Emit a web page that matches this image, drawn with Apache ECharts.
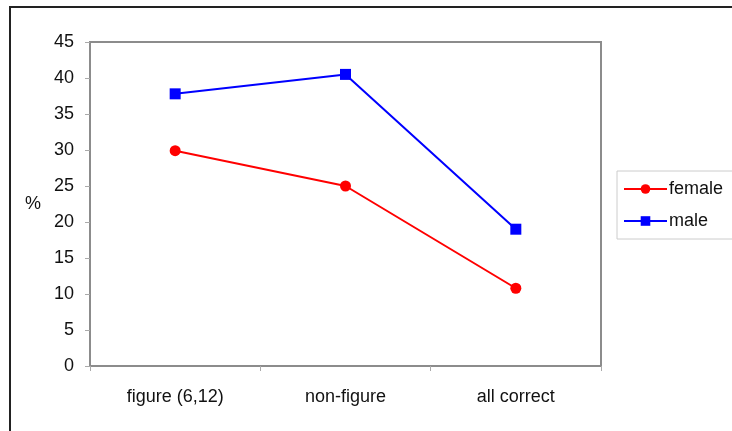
<!DOCTYPE html>
<html><head><meta charset="utf-8">
<script src="https://cdn.jsdelivr.net/npm/echarts@6/dist/echarts.min.js"></script>
<style>
html,body{margin:0;padding:0;background:#fff;}
#frame{position:absolute;left:9px;top:6px;width:740px;height:440px;border-left:2px solid #222;border-top:2px solid #222;}
#c{position:absolute;left:0;top:0;width:732px;height:431px;}
</style></head>
<body><div id="frame"></div><div id="c"></div>
<script>
const categories = ['figure (6,12)', 'non-figure', 'all correct'];
const female = [29.9, 25.0, 10.8];
const male = [37.8, 40.5, 19.0];
const yTicks = {min: 0, max: 45, interval: 5};

const chart = echarts.init(document.getElementById('c'));
const font = 'Liberation Sans, Arial, sans-serif';
chart.setOption({
  animation: false,
  textStyle: {fontFamily: font},
  grid: {left: 90, top: 42, right: 131, bottom: 65, show: true, borderColor: '#8c8c8c', borderWidth: 2, backgroundColor: '#fff'},
  xAxis: {
    type: 'category', data: categories, boundaryGap: true,
    axisLine: {lineStyle: {color: '#8c8c8c', width: 2}},
    axisTick: {show: true, length: 5, lineStyle: {color: '#aaa'}},
    axisLabel: {color: '#111', fontSize: 18, fontFamily: font, margin: 22}
  },
  yAxis: {
    type: 'value', min: yTicks.min, max: yTicks.max, interval: yTicks.interval,
    name: '%', nameLocation: 'middle', nameRotate: 0, nameGap: 49,
    nameTextStyle: {color: '#111', fontSize: 18, fontFamily: font},
    splitLine: {show: false},
    axisLine: {show: true, lineStyle: {color: '#8c8c8c', width: 2}},
    axisTick: {show: true, length: 5, lineStyle: {color: '#aaa'}},
    axisLabel: {color: '#111', fontSize: 18, fontFamily: font, margin: 16}
  },
  legend: {
    orient: 'vertical', left: 617, top: 171,
    padding: [9, 60, 9, 6], itemGap: 14,
    itemWidth: 43, itemHeight: 12,
    borderColor: '#ccc', borderWidth: 1,
    textStyle: {color: '#111', fontSize: 18, fontFamily: font, padding: [0, 0, 0, -3]},
    data: ['female', 'male']
  },
  series: [
    {name: 'female', type: 'line', data: female, symbol: 'circle', symbolSize: 11,
     lineStyle: {color: '#ff0000', width: 2}, itemStyle: {color: '#ff0000'}},
    {name: 'male', type: 'line', data: male, symbol: 'rect', symbolSize: 11,
     lineStyle: {color: '#0000ff', width: 2}, itemStyle: {color: '#0000ff'}}
  ]
});
</script></body></html>
